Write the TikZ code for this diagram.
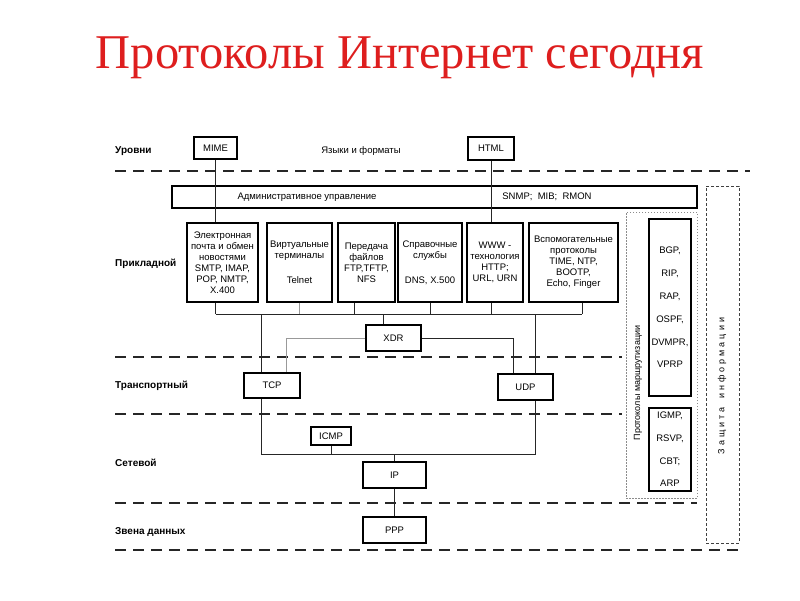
\documentclass[tikz,border=0pt]{standalone}
\usepackage{fontspec}
\setmainfont{Liberation Sans}
\newfontfamily\titlefont{Liberation Serif}
\usetikzlibrary{calc}
\definecolor{titlered}{RGB}{222,30,30}
\begin{document}
\begin{tikzpicture}[x=1pt,y=-1pt,
  box/.style={draw=black, line width=1.6pt, inner sep=0pt, align=center,
    font=\fontsize{9.5}{11}\selectfont},
  conn/.style={line width=0.7pt, black!85},
  gconn/.style={line width=0.9pt, black!40},
  layer/.style={font=\fontsize{10}{12}\selectfont\bfseries, anchor=west, inner sep=0pt},
  sep/.style={line width=1.6pt, black!85, dash pattern=on 11pt off 7pt},
  plain/.style={font=\fontsize{9.5}{11}\selectfont, inner sep=0pt}]
\fill[white] (0,0) rectangle (800,600);
\useasboundingbox (0,0) rectangle (800,600);

% title
\node[font=\titlefont\fontsize{48.5}{52}\selectfont, text=titlered] (title) at (400,58) {Протоколы Интернет сегодня};

% layer labels
\node[layer] (l1) at (115,151) {Уровни};
\node[layer] (l2) at (115,264) {Прикладной};
\node[layer] (l3) at (115,386) {Транспортный};
\node[layer] (l4) at (115,463) {Сетевой};
\node[layer] (l5) at (115,532) {Звена данных};

% separators
\draw[sep] (115,171) -- (750,171);
\draw[sep] (115,357) -- (622,357);
\draw[sep] (115,414) -- (622,414);
\draw[sep] (115,503) -- (697,503);
\draw[sep] (115,550) -- (745,550);

% top boxes
\node[box, minimum width=43pt, minimum height=22pt] (mime) at (215.5,148) {MIME};
\node[box, minimum width=46pt, minimum height=23pt] (html) at (491,148.5) {HTML};
\node[plain] (lang) at (361,151) {Языки и форматы};

\node[box, minimum width=525pt, minimum height=22pt] (admin) at (434.5,197) {};
\node[plain] (admtext) at (307,197) {Административное управление};
\node[plain] (snmp) at (547,197) {SNMP;\ \ MIB;\ \ RMON};

% application boxes
\node[box, minimum width=71pt, minimum height=79pt] (b1) at (222.5,262.5)
  {Электронная\\почта и обмен\\новостями\\SMTP, IMAP,\\POP, NMTP,\\X.400};
\node[box, minimum width=65pt, minimum height=79pt] (b2) at (299.5,262.5)
  {Виртуальные\\терминалы\\[14pt]Telnet};
\node[box, minimum width=57pt, minimum height=79pt] (b3) at (366.5,262.5)
  {Передача\\файлов\\FTP,TFTP,\\NFS};
\node[box, minimum width=64pt, minimum height=79pt] (b4) at (430,262.5)
  {Справочные\\службы\\[14pt]DNS, X.500};
\node[box, minimum width=56pt, minimum height=79pt] (b5) at (495,262.5)
  {WWW -\\технология\\HTTP;\\URL, URN};
\node[box, minimum width=89pt, minimum height=79pt] (b6) at (573.5,262.5)
  {Вспомогательные\\протоколы\\TIME, NTP,\\BOOTP,\\Echo, Finger};

% lower boxes
\node[box, minimum width=55pt, minimum height=26pt] (xdr) at (393.5,338) {XDR};
\node[box, minimum width=56pt, minimum height=25pt] (tcp) at (272,385.5) {TCP};
\node[box, minimum width=55pt, minimum height=26pt] (udp) at (525.5,387) {UDP};
\node[box, minimum width=40pt, minimum height=18pt] (icmp) at (331,436) {ICMP};
\node[box, minimum width=63pt, minimum height=26pt] (ip) at (394.5,475) {IP};
\node[box, minimum width=63pt, minimum height=26pt] (ppp) at (394.5,530) {PPP};

% right side
\node[draw=black!45, line width=0.8pt, dash pattern=on 1.5pt off 1.5pt,
  minimum width=71pt, minimum height=286pt, inner sep=0pt] (routing) at (661.5,355) {};
\node[draw=black!75, line width=0.8pt, dash pattern=on 3pt off 2pt,
  minimum width=33pt, minimum height=357pt, inner sep=0pt] (security) at (722.5,364.5) {};
\node[box, minimum width=42pt, minimum height=177pt, font=\fontsize{9.5}{22.8}\selectfont]
  (bgp) at (670,307.5) {BGP,\\RIP,\\RAP,\\OSPF,\\DVMPR,\\VPRP};
\node[box, minimum width=42pt, minimum height=83pt, font=\fontsize{9.5}{22.7}\selectfont]
  (igmp) at (670,449.5) {IGMP,\\RSVP,\\CBT;\\ARP};
\node[rotate=90, font=\fontsize{9}{10}\selectfont, inner sep=0pt] (rlabel) at (638,383)
  {Протоколы маршрутизации};
\node[rotate=90, font=\fontsize{9}{10}\selectfont, inner sep=0pt] (slabel) at (722,386)
  {З\kern3pt а\kern3pt щ\kern3pt и\kern3pt т\kern3pt а\kern3pt\ \kern3pt и\kern3pt н\kern3pt ф\kern3pt о\kern3pt р\kern3pt м\kern3pt а\kern3pt ц\kern3pt и\kern3pt и};

% connectors
\coordinate (busA) at (0,314);
\coordinate (busB) at (0,454);
\draw[conn] (mime.south) -- (mime.south |- b1.north);
\draw[conn] (html.south) -- (html.south |- b5.north);

\draw[conn] (b1.south -| mime.south) -- (busA -| mime.south);
\draw[gconn] (b2.south) -- (b2.south |- busA);
\draw[conn] ([xshift=-12.5pt]b3.south) coordinate (d3) -- (d3 |- busA);
\draw[conn] (b4.south) -- (b4.south |- busA);
\draw[conn] (b5.south -| html.south) -- (busA -| html.south);
\draw[conn] ([xshift=8.5pt]b6.south) coordinate (d6) -- (d6 |- busA);
\draw[conn] (busA -| mime.south) -- (busA -| d6);

\draw[conn] ([xshift=-10.5pt]xdr.north) coordinate (dx) -- (dx |- busA);
\draw[conn] ([xshift=-11pt]tcp.north) coordinate (tn) -- (tn |- busA);
\draw[conn] ([xshift=9.5pt]udp.north) coordinate (un) -- (un |- busA);
\draw[gconn] (xdr.west) -| ([xshift=14pt]tcp.north);
\draw[conn] (xdr.east) -| ([xshift=-12.5pt]udp.north);

\draw[conn] ([xshift=-11pt]tcp.south) coordinate (ts) -- (ts |- busB)
  -- (busB -| un) -- (un |- udp.south);
\draw[conn] (icmp.south) -- (icmp.south |- busB);
\draw[conn] (ip.north) -- (ip.north |- busB);
\draw[conn] (ip.south) -- (ppp.north);
\end{tikzpicture}
\end{document}
